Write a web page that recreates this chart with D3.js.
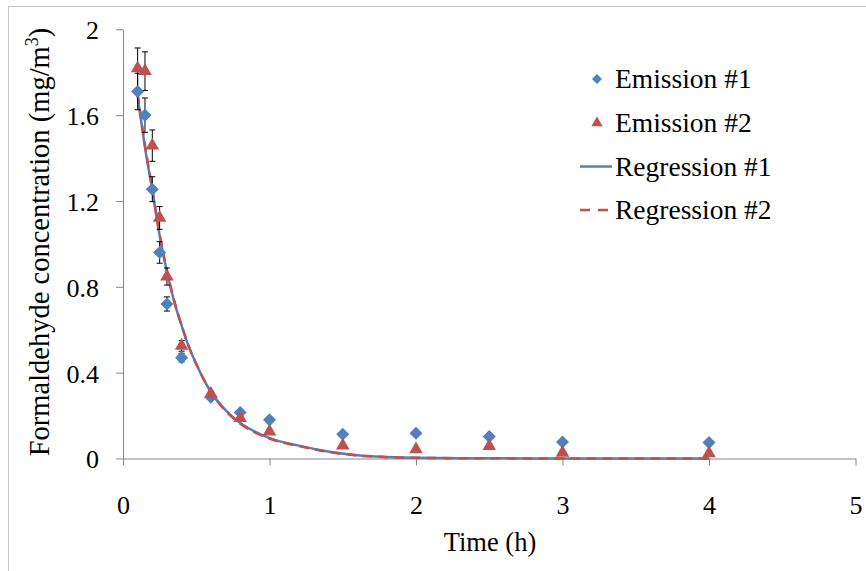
<!DOCTYPE html>
<meta charset="utf-8" />
<title>Formaldehyde emission</title>
<style>
  body { margin: 0; background: #fff; }
  svg { display: block; }
  .axis path, .axis line { stroke: #868686; stroke-width: 1px; }
</style>
<svg width="866" height="571" font-family="Liberation Serif, Times New Roman, serif"></svg>
<script src="https://d3js.org/d3.v7.min.js"></script>
<script>
// measured samples
const times = [0.1, 0.15, 0.2, 0.25, 0.3, 0.4, 0.6, 0.8, 1.0, 1.5, 2, 2.5, 3, 4];
const emission1 = [1.71, 1.60, 1.255, 0.96, 0.72, 0.47, 0.285, 0.214, 0.18, 0.113, 0.118, 0.102, 0.077, 0.074];
const emission1Err = [0.085, 0.08, 0.058, 0.05, 0.033, 0.02, 0.012, 0.008, 0.008, 0.006, 0.006, 0.006, 0.005, 0.005];
const emission2 = [1.818, 1.805, 1.458, 1.121, 0.848, 0.525, 0.301, 0.188, 0.125, 0.06, 0.043, 0.058, 0.027, 0.024];
const emission2Err = [0.095, 0.09, 0.073, 0.053, 0.04, 0.025, 0.012, 0.008, 0.008, 0.006, 0.006, 0.006, 0.005, 0.005];

// regression curves
const regTimes = [0.1, 0.15, 0.2, 0.25, 0.3, 0.35, 0.4, 0.45, 0.5, 0.6, 0.7, 0.8, 0.9, 1.0, 1.2, 1.4, 1.6, 1.8, 2.0, 2.5, 3.0, 3.5, 4.0];
const regression1 = [1.69, 1.45, 1.25, 1.04, 0.87, 0.73, 0.62, 0.52, 0.44, 0.31, 0.225, 0.165, 0.125, 0.095, 0.06, 0.033, 0.015, 0.007, 0.003, 0.001, 0, 0, 0];
const regression2 = [1.70, 1.46, 1.255, 1.045, 0.875, 0.735, 0.62, 0.52, 0.44, 0.31, 0.222, 0.162, 0.122, 0.093, 0.058, 0.031, 0.014, 0.006, 0.003, 0.001, 0, 0, 0];

const xTicks = [0, 1, 2, 3, 4, 5];
const yTicks = [0, 0.4, 0.8, 1.2, 1.6, 2];

const blue = "#4f81bd", red = "#c0504d";
const serif = "Liberation Serif";

const svg = d3.select("svg");

// outer frame (left and top edges visible)
svg.append("path")
  .attr("d", "M8.5,571V6.5H866")
  .attr("fill", "none")
  .attr("stroke", "#c6c6c6");

const x = d3.scaleLinear().domain([0, 5]).range([123, 855.5]);
const y = d3.scaleLinear().domain([0, 2]).range([458.5, 29.3]);

const xAxis = svg.append("g")
  .attr("class", "axis")
  .attr("transform", "translate(0,458.5)")
  .call(d3.axisBottom(x).tickValues(xTicks).tickSize(7).tickSizeOuter(0).tickPadding(30).tickFormat(d3.format("d")));

const yAxis = svg.append("g")
  .attr("class", "axis")
  .attr("transform", "translate(123,0)")
  .call(d3.axisLeft(y).tickValues(yTicks).tickSize(7).tickSizeOuter(0).tickPadding(17).tickFormat(d => String(+d.toFixed(1))));
yAxis.selectAll("text").attr("dy", "0.36em");

svg.selectAll(".axis")
  .attr("font-family", serif)
  .attr("font-size", 26);
svg.selectAll(".axis text").attr("fill", "#000");
svg.selectAll(".axis .domain").attr("stroke", "#868686");

// axis titles
svg.append("text")
  .attr("x", 490)
  .attr("y", 551)
  .attr("font-family", serif)
  .attr("font-size", 26.5)
  .attr("text-anchor", "middle")
  .text("Time (h)");

const yt = svg.append("text")
  .attr("transform", "translate(49,242) rotate(-90)")
  .attr("font-family", serif)
  .attr("font-size", 28.5)
  .attr("text-anchor", "middle");
yt.append("tspan").text("Formaldehyde concentration (mg/m");
yt.append("tspan").attr("font-size", 18).attr("dy", -11).text("3");
yt.append("tspan").attr("dy", 11).text(")");

// regression lines
const line = d3.line().x(d => x(d[0])).y(d => y(d[1])).curve(d3.curveMonotoneX);

svg.append("path")
  .datum(regTimes.map((t, i) => [t, regression1[i]]))
  .attr("d", line)
  .attr("fill", "none")
  .attr("stroke", blue)
  .attr("stroke-width", 2.5);

svg.append("path")
  .datum(regTimes.map((t, i) => [t, regression2[i]]))
  .attr("d", line)
  .attr("fill", "none")
  .attr("stroke", red)
  .attr("stroke-width", 2.5)
  .attr("stroke-dasharray", "10,6");

// error bars
function errorBars(vals, errs) {
  const g = svg.append("g").attr("stroke", "#000").attr("stroke-width", 1);
  const data = times.map((t, i) => ({ t, v: vals[i], e: errs[i] }));
  g.selectAll("path")
    .data(data)
    .enter().append("path")
    .attr("fill", "none")
    .attr("d", d => {
      const cx = x(d.t), y1 = y(d.v + d.e), y2 = y(d.v - d.e);
      return `M${cx - 3},${y1}H${cx + 3}M${cx},${y1}V${y2}M${cx - 3},${y2}H${cx + 3}`;
    });
}
errorBars(emission1, emission1Err);
errorBars(emission2, emission2Err);

// markers
const diamond = d3.symbol().type(d3.symbolSquare).size(85);
const triangle = d3.symbol().type(d3.symbolTriangle).size(80);

svg.append("g").selectAll("path")
  .data(times.map((t, i) => [t, emission1[i]]))
  .enter().append("path")
  .attr("d", diamond)
  .attr("transform", d => `translate(${x(d[0])},${y(d[1])}) rotate(45)`)
  .attr("fill", blue);

svg.append("g").selectAll("path")
  .data(times.map((t, i) => [t, emission2[i]]))
  .enter().append("path")
  .attr("d", triangle)
  .attr("transform", d => `translate(${x(d[0])},${y(d[1])})`)
  .attr("fill", red);

// legend
const legend = svg.append("g")
  .attr("font-family", serif)
  .attr("font-size", 27.5);
const legendItems = ["Emission #1", "Emission #2", "Regression #1", "Regression #2"];
const rowY = [79, 123, 166.5, 210];

legendItems.forEach((name, i) => {
  const cy = rowY[i];
  if (i === 0) {
    legend.append("path").attr("d", d3.symbol().type(d3.symbolSquare).size(50))
      .attr("transform", `translate(597,${cy}) rotate(45)`).attr("fill", blue);
  } else if (i === 1) {
    legend.append("path").attr("d", d3.symbol().type(d3.symbolTriangle).size(55))
      .attr("transform", `translate(597,${cy})`).attr("fill", red);
  } else {
    legend.append("line")
      .attr("x1", 580).attr("x2", 612).attr("y1", cy).attr("y2", cy)
      .attr("stroke", i === 2 ? blue : red)
      .attr("stroke-width", 2.5)
      .attr("stroke-dasharray", i === 3 ? "10,8" : null);
  }
  legend.append("text").attr("x", 615).attr("y", cy + 9).attr("fill", "#000").text(name);
});
</script>
